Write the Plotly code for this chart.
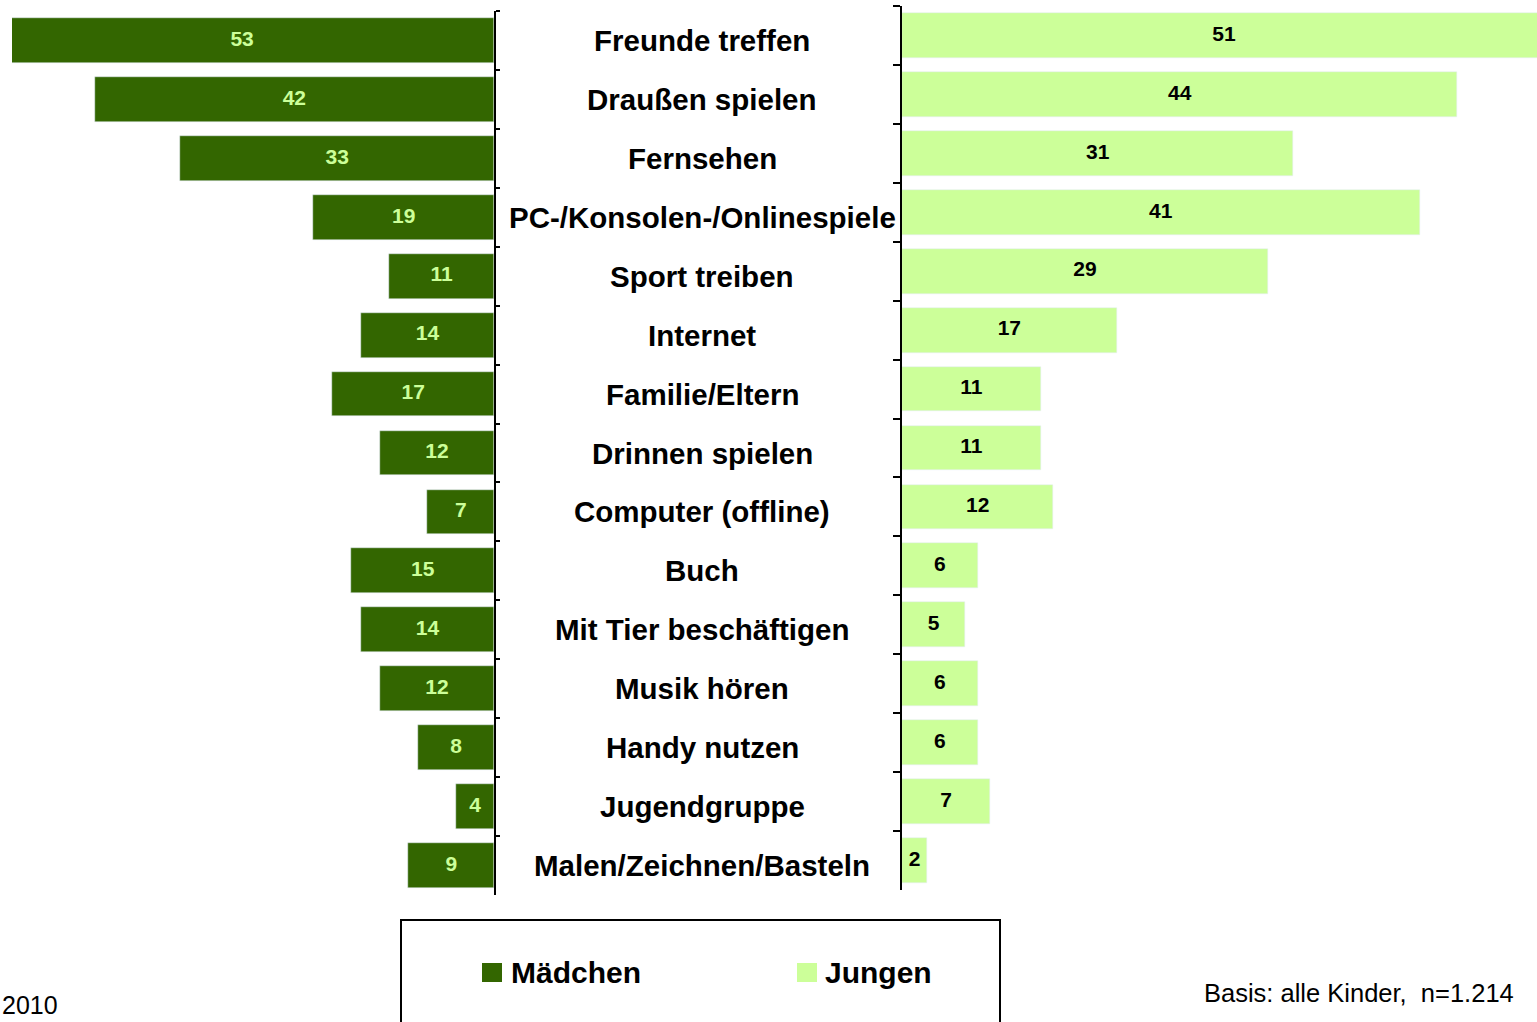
import plotly.graph_objects as go

W, H = 1537, 1022

categories = ["Freunde treffen", "Draußen spielen", "Fernsehen", "PC-/Konsolen-/Onlinespiele",
              "Sport treiben", "Internet", "Familie/Eltern", "Drinnen spielen", "Computer (offline)",
              "Buch", "Mit Tier beschäftigen", "Musik hören", "Handy nutzen", "Jugendgruppe",
              "Malen/Zeichnen/Basteln"]
maedchen = [53, 42, 33, 19, 11, 14, 17, 12, 7, 15, 14, 12, 8, 4, 9]
jungen = [51, 44, 31, 41, 29, 17, 11, 11, 12, 6, 5, 6, 6, 7, 2]
series_names = ["Mädchen", "Jungen"]
year_note = "2010"
basis_note = "Basis: alle Kinder,  n=1.214"

DARK = "#336600"
LIGHT = "#CCFF99"
FONT = "Arial, Liberation Sans, sans-serif"


def px(x):
    return x / W


def py(y):
    return 1 - y / H


n = len(categories)
fig = go.Figure()

# Left (Mädchen)
fig.add_trace(go.Bar(y=categories, x=maedchen, orientation="h", marker_color=DARK,
                     width=0.76, xaxis="x", yaxis="y", showlegend=False, hoverinfo="skip"))
fig.add_trace(go.Scatter(y=categories, x=[v / 2 for v in maedchen], mode="text",
                         text=["<b>%d</b>" % v for v in maedchen],
                         textfont=dict(family=FONT, size=21, color=LIGHT),
                         xaxis="x", yaxis="y", showlegend=False, cliponaxis=False,
                         hoverinfo="skip"))
# Right (Jungen)
fig.add_trace(go.Bar(y=categories, x=jungen, orientation="h", marker_color=LIGHT,
                     width=0.76, xaxis="x2", yaxis="y2", showlegend=False, hoverinfo="skip"))
fig.add_trace(go.Scatter(y=categories, x=[v / 2 for v in jungen], mode="text",
                         text=["<b>%d</b>" % v for v in jungen],
                         textfont=dict(family=FONT, size=21, color="black"),
                         xaxis="x2", yaxis="y2", showlegend=False, cliponaxis=False,
                         hoverinfo="skip"))

annotations = []
for c in categories:
    annotations.append(dict(x=px(702), xref="paper", y=c, yref="y", text="<b>%s</b>" % c,
                            showarrow=False, xanchor="center", yanchor="middle",
                            font=dict(family=FONT, size=29.5, color="black")))

# legend
annotations.append(dict(x=px(509), y=py(972), xref="paper", yref="paper",
                        text="<b>%s</b>" % series_names[0], showarrow=False,
                        xanchor="left", yanchor="middle",
                        font=dict(family=FONT, size=30, color="black")))
annotations.append(dict(x=px(823), y=py(972), xref="paper", yref="paper",
                        text="<b>%s</b>" % series_names[1], showarrow=False,
                        xanchor="left", yanchor="middle",
                        font=dict(family=FONT, size=30, color="black")))
annotations.append(dict(x=px(0), y=py(1005), xref="paper", yref="paper",
                        text=year_note, showarrow=False, xanchor="left", yanchor="middle",
                        font=dict(family=FONT, size=25, color="black")))
annotations.append(dict(x=px(1516), y=py(993), xref="paper", yref="paper",
                        text=basis_note, showarrow=False, xanchor="right", yanchor="middle",
                        font=dict(family=FONT, size=25.5, color="black")))

shapes = [
    dict(type="rect", xref="paper", yref="paper", x0=px(401), x1=px(1000),
         y0=py(1040), y1=py(920), line=dict(color="black", width=2), fillcolor="rgba(0,0,0,0)"),
    dict(type="rect", xref="paper", yref="paper", x0=px(482), x1=px(502),
         y0=py(982), y1=py(963), line=dict(width=0), fillcolor=DARK),
    dict(type="rect", xref="paper", yref="paper", x0=px(797), x1=px(817),
         y0=py(982), y1=py(963), line=dict(width=0), fillcolor=LIGHT),
]

fig.update_layout(
    width=W, height=H,
    margin=dict(l=0, r=0, t=0, b=0),
    paper_bgcolor="white", plot_bgcolor="rgba(0,0,0,0)",
    bargap=0,
    xaxis=dict(domain=[px(12), px(494)], range=[50.7, 0], visible=False, anchor="y"),
    yaxis=dict(domain=[py(895), py(11)], anchor="x", side="right", type="category",
               range=[n - 0.5, -0.5], autorange=False,
               showline=True, linecolor="black", linewidth=2,
               ticks="outside", tickson="boundaries", ticklen=4, tickwidth=2,
               tickcolor="black", showticklabels=False, showgrid=False, zeroline=False),
    xaxis2=dict(domain=[px(902), 1], range=[0, 50.3], visible=False, anchor="y2"),
    yaxis2=dict(domain=[py(890), py(6)], anchor="x2", side="left", type="category",
                range=[n - 0.5, -0.5], autorange=False,
                showline=True, linecolor="black", linewidth=2,
                ticks="outside", tickson="boundaries", ticklen=7, tickwidth=2,
                tickcolor="black", showticklabels=False, showgrid=False, zeroline=False),
    annotations=annotations,
    shapes=shapes,
    font=dict(family=FONT),
)

fig.write_html("out.html", config={"displayModeBar": False},
               post_script="document.body.style.margin='0';")
